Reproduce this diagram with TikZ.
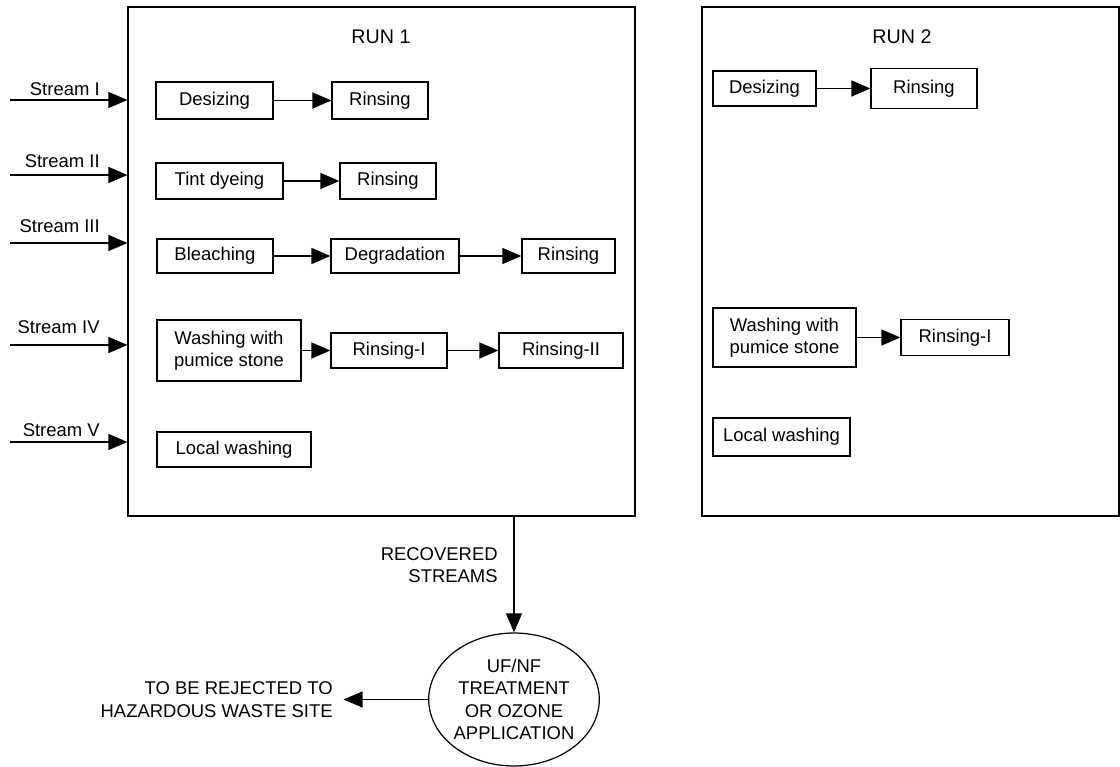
\documentclass[tikz,border=0pt]{standalone}
\usepackage{fontspec}
\setmainfont{Liberation Sans}
\usetikzlibrary{arrows.meta,shapes.geometric}

\tikzset{
  proc/.style={draw, line width=0.7pt, inner sep=0pt, align=center},
  runbox/.style={draw, line width=0.7pt, inner sep=0pt, minimum width=#1, minimum height=10.18cm},
  flow/.style={->, line width=0.7pt},
  streamlbl/.style={anchor=base east, inner sep=0pt},
}

\begin{document}
\begin{tikzpicture}[x=0.02cm, y=-0.02cm, >={Triangle[length=3.8mm,width=3.2mm]},
  every node/.style={font=\fontsize{10.5}{12.8}\selectfont}]
\useasboundingbox (0,0) rectangle (1120,767);
% Run boxes and titles
\node [runbox=10.14cm] (run1) at (381.5,261.5) {};
\node [runbox=8.34cm] (run2) at (910.5,261.5) {};
\node [font=\fontsize{11.2}{13}\selectfont] (title1) at (381,37) {RUN 1};
\node [font=\fontsize{11.2}{13}\selectfont] (title2) at (902,37) {RUN 2};
% Incoming streams
\coordinate (s1) at (10,100);
\coordinate (s2) at (10,175);
\coordinate (s3) at (10,243);
\coordinate (s4) at (10,345);
\coordinate (s5) at (10,442);
\draw [flow] (s1) -- (s1 -| run1.west);
\draw [flow] (s2) -- (s2 -| run1.west);
\draw [flow] (s3) -- (s3 -| run1.west);
\draw [flow] (s4) -- (s4 -| run1.west);
\draw [flow] (s5) -- (s5 -| run1.west);
\node [streamlbl] (lbl1) at (100,96) {Stream I};
\node [streamlbl] (lbl2) at (100,168) {Stream II};
\node [streamlbl] (lbl3) at (100,233) {Stream III};
\node [streamlbl] (lbl4) at (100,333) {Stream IV};
\node [streamlbl] (lbl5) at (100,436) {Stream V};
% Run 1 processes
\node [proc, minimum width=2.34cm, minimum height=0.74cm] (desize1) at (214.5,100.5) {Desizing};
\node [proc, minimum width=1.92cm, minimum height=0.74cm] (rinse1) at (380,100.5) {Rinsing};
\draw [flow] (desize1) -- (rinse1);
\node [proc, minimum width=2.54cm, minimum height=0.72cm] (tint1) at (219.5,181) {Tint dyeing};
\node [proc, minimum width=1.92cm, minimum height=0.72cm] (rinse2) at (388,181) {Rinsing};
\draw [flow] (tint1) -- (rinse2);
\node [proc, minimum width=2.32cm, minimum height=0.68cm] (bleach1) at (215,256) {Bleaching};
\node [proc, minimum width=2.56cm, minimum height=0.68cm] (degrad1) at (395,256) {Degradation};
\node [proc, minimum width=1.86cm, minimum height=0.68cm] (rinse3) at (568.5,256) {Rinsing};
\draw [flow] (bleach1) -- (degrad1);
\draw [flow] (degrad1) -- (rinse3);
\node [proc, minimum width=2.88cm, minimum height=1.22cm] (wash1) at (229,350.5) {Washing with\\pumice stone};
\node [proc, minimum width=2.32cm, minimum height=0.70cm] (rinseI1) at (389,350.5) {Rinsing-I};
\node [proc, minimum width=2.48cm, minimum height=0.70cm] (rinseII1) at (561,350.5) {Rinsing-II};
\draw [flow] (wash1) -- (rinseI1);
\draw [flow] (rinseI1) -- (rinseII1);
\node [proc, minimum width=3.08cm, minimum height=0.70cm] (local1) at (234,449.5) {Local washing};
% Run 2 processes
\node [proc, minimum width=2.06cm, minimum height=0.70cm] (desize2) at (764.5,88.5) {Desizing};
\node [proc, minimum width=2.12cm, minimum height=0.80cm] (rinse4) at (924,88.5) {Rinsing};
\draw [flow] (desize2) -- (rinse4);
\node [proc, minimum width=2.86cm, minimum height=1.18cm] (wash2) at (784.5,337.5) {Washing with\\pumice stone};
\node [proc, minimum width=2.16cm, minimum height=0.72cm] (rinseI2) at (955,337.5) {Rinsing-I};
\draw [flow] (wash2) -- (rinseI2);
\node [proc, minimum width=2.74cm, minimum height=0.76cm] (local2) at (781.5,437) {Local washing};
% Treatment of recovered streams
\node [proc, ellipse, minimum width=3.28cm, minimum height=2.66cm] (treat) at (514,699.5)
  {UF/NF\\TREATMENT\\OR OZONE\\APPLICATION};
\draw [flow] (treat.north |- run1.south) -- (treat.north);
\node [align=right, anchor=east, inner sep=0pt] (recov) at (498,565) {RECOVERED\\STREAMS};
\node [align=right, anchor=east, inner sep=0pt] (reject) at (333,699.5) {TO BE REJECTED TO\\HAZARDOUS WASTE SITE};
\draw [flow] (treat.west) -- ([xshift=6] reject.east);
\end{tikzpicture}
\end{document}
